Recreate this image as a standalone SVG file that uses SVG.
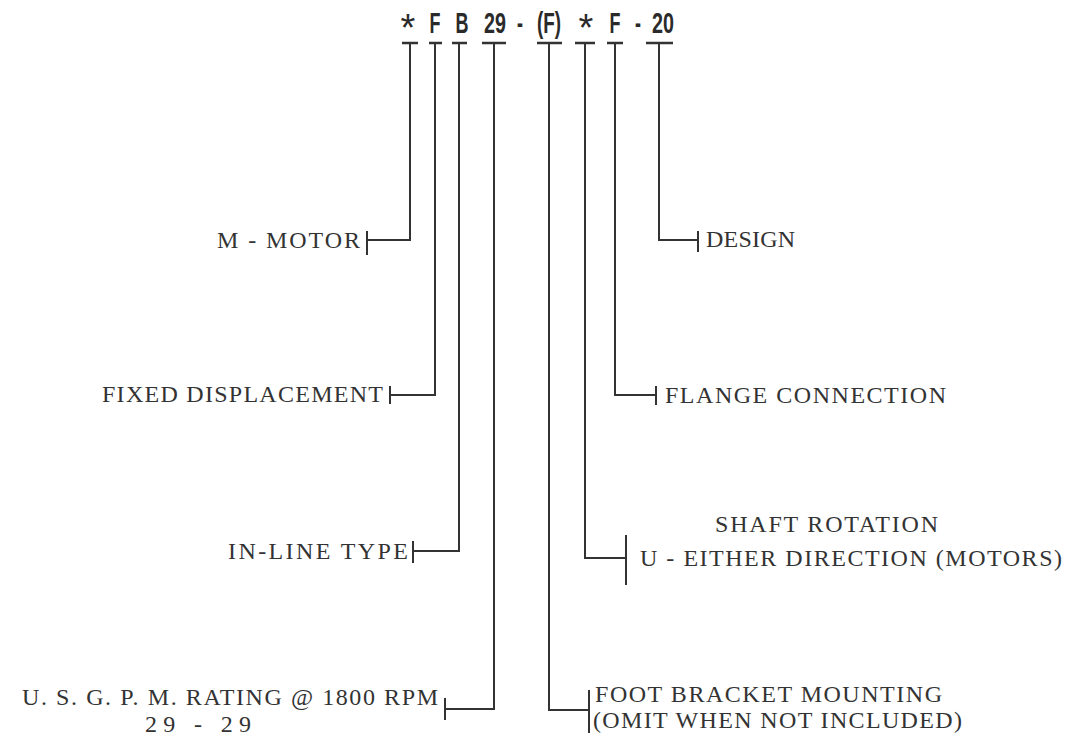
<svg xmlns="http://www.w3.org/2000/svg" width="1071" height="745" viewBox="0 0 1071 745">
<style>
.code{font-family:"Liberation Sans",Arial,sans-serif;font-weight:bold;font-size:29px;fill:#2a2a2a;text-anchor:middle}
.ast{font-family:"Liberation Sans",Arial,sans-serif;font-size:38px;fill:#2a2a2a;text-anchor:middle}
.lbl{font-family:"Liberation Serif","Times New Roman",serif;font-size:24px;fill:#333}
.ln{stroke:#333;stroke-width:2;fill:none}
.bar{stroke:#333;stroke-width:2.5;fill:none}
</style>
<rect width="1071" height="745" fill="#fff"/>
<g id="code">
<text class="ast" x="408" y="41">*</text>
<text class="code" transform="translate(435,33) scale(0.62,1)">F</text>
<text class="code" transform="translate(462,33) scale(0.62,1)">B</text>
<text class="code" transform="translate(495,33) scale(0.68,1)">29</text>
<text class="code" transform="translate(520,33) scale(0.62,1)">-</text>
<text class="code" transform="translate(549,33) scale(0.65,1)">(F)</text>
<text class="ast" x="586" y="41">*</text>
<text class="code" transform="translate(615,33) scale(0.62,1)">F</text>
<text class="code" transform="translate(638,33) scale(0.62,1)">-</text>
<text class="code" transform="translate(663,33) scale(0.68,1)">20</text>
</g>
<g id="connectors">
<path class="bar" d="M402 43H418M429 43H442M452 43H467M482 43H506M537 43H562M575 43H595M607 43H623M646 43H673"/>
<path class="ln" d="M410 43V240H367"/>
<path class="ln" d="M367 231V255"/>
<path class="ln" d="M659 43V240H698"/>
<path class="ln" d="M698 231V252"/>
<path class="ln" d="M435 43V395H390"/>
<path class="ln" d="M390 386V404"/>
<path class="ln" d="M615 43V395H656"/>
<path class="ln" d="M656 386V405"/>
<path class="ln" d="M459 43V551H413"/>
<path class="ln" d="M413 541V563"/>
<path class="ln" d="M585 43V558H626"/>
<path class="ln" d="M626 535V585"/>
<path class="ln" d="M494 43V709H445"/>
<path class="ln" d="M445 698V720"/>
<path class="ln" d="M549 43V710H589"/>
<path class="ln" d="M589 690V733"/>
</g>
<g id="motor"><text class="lbl" x="217" y="248" textLength="143" lengthAdjust="spacing">M - MOTOR</text></g>
<g id="design"><text class="lbl" x="706" y="247" textLength="89" lengthAdjust="spacing">DESIGN</text></g>
<g id="fixed"><text class="lbl" x="102" y="402" textLength="281" lengthAdjust="spacing">FIXED DISPLACEMENT</text></g>
<g id="flange"><text class="lbl" x="665" y="403" textLength="281" lengthAdjust="spacing">FLANGE CONNECTION</text></g>
<g id="inline"><text class="lbl" x="228" y="559" textLength="180" lengthAdjust="spacing">IN-LINE TYPE</text></g>
<g id="shaft">
<text class="lbl" x="715" y="532" textLength="223" lengthAdjust="spacing">SHAFT ROTATION</text>
<text class="lbl" x="640" y="566" textLength="422" lengthAdjust="spacing">U - EITHER DIRECTION (MOTORS)</text>
</g>
<g id="rating">
<text class="lbl" x="22" y="705" textLength="416" lengthAdjust="spacing">U. S. G. P. M.  RATING @ 1800 RPM</text>
<text class="lbl" x="145" y="732" textLength="106" lengthAdjust="spacing">29 - 29</text>
</g>
<g id="foot">
<text class="lbl" x="595" y="702" textLength="347" lengthAdjust="spacing">FOOT BRACKET MOUNTING</text>
<text class="lbl" x="593" y="728" textLength="369" lengthAdjust="spacing">(OMIT WHEN NOT INCLUDED)</text>
</g>
</svg>
